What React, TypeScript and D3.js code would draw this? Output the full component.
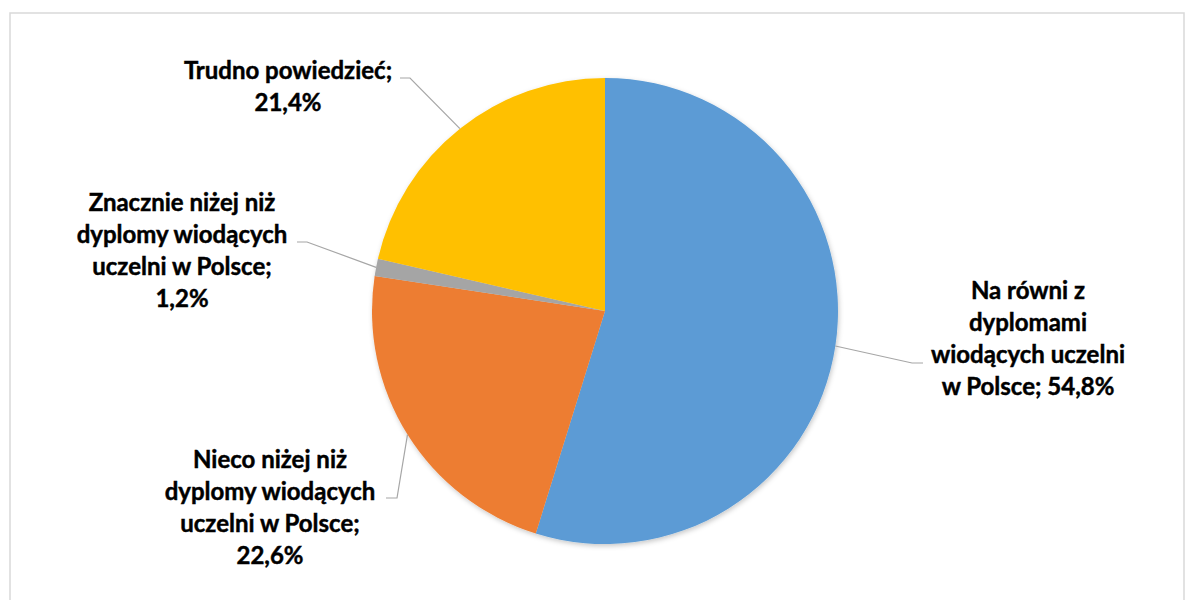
import React from "react";
import * as d3 from "d3";

// categories, in drawing order (clockwise from 12 o'clock)
const categories = [
  "Na równi z dyplomami wiodących uczelni w Polsce",
  "Nieco niżej niż dyplomy wiodących uczelni w Polsce",
  "Znacznie niżej niż dyplomy wiodących uczelni w Polsce",
  "Trudno powiedzieć",
];
const shares = [54.8, 22.6, 1.2, 21.4];

// label text, line by line
const labelLines = [
  ["Na równi z", "dyplomami", "wiodących uczelni", "w Polsce; 54,8%"],
  ["Nieco niżej niż", "dyplomy wiodących", "uczelni w Polsce;", "22,6%"],
  ["Znacznie niżej niż", "dyplomy wiodących", "uczelni w Polsce;", "1,2%"],
  ["Trudno powiedzieć;", "21,4%"],
];

const colors = ["#5B9BD5", "#ED7D31", "#A5A5A5", "#FFC000"];

// label block layout: centre x, first baseline, leader elbow and end
const labelLayout = [
  { cx: 1028, y0: 299, elbow: [912, 363], end: [923, 363] },
  { cx: 270, y0: 468, elbow: [397, 498], end: [386, 498] },
  { cx: 182, y0: 211, elbow: [307, 242], end: [297, 242] },
  { cx: 288, y0: 79, elbow: [410, 78], end: [400, 78] },
];

const W = 1185;
const H = 600;
const CX = 605;
const CY = 311;
const R = 233;
const LINE_H = 32;

export default function App() {
  const data = categories.map((c, i) => ({ key: c, value: shares[i] }));
  const pie = d3.pie<{ key: string; value: number }>().value(d => d.value).sort(null);
  const arcs = pie(data);
  const arc = d3.arc<d3.PieArcDatum<{ key: string; value: number }>>().innerRadius(0).outerRadius(R);

  return (
    <svg width={W} height={H} style={{ position: "absolute", left: 0, top: 0 }}>
      <defs>
        <filter id="shadow" x="-10%" y="-10%" width="120%" height="120%">
          <feDropShadow dx="1" dy="2" stdDeviation="2.5" floodColor="#000" floodOpacity="0.22" />
        </filter>
      </defs>
      <rect x={0} y={0} width={W} height={H} fill="#fff" />
      <rect x={10} y={13} width={1174} height={620} fill="none" stroke="#d9d9d9" strokeWidth={1.5} />
      <g transform={`translate(${CX},${CY})`} filter="url(#shadow)">
        {arcs.map((a, i) => (
          <path key={i} d={arc(a) || ""} fill={colors[i]} />
        ))}
      </g>
      {arcs.map((a, i) => {
        const mid = (a.startAngle + a.endAngle) / 2;
        const sx = CX + R * Math.sin(mid);
        const sy = CY - R * Math.cos(mid);
        const L = labelLayout[i];
        return (
          <polyline
            key={"l" + i}
            points={`${sx},${sy} ${L.elbow[0]},${L.elbow[1]} ${L.end[0]},${L.end[1]}`}
            fill="none"
            stroke="#a6a6a6"
            strokeWidth={1.2}
          />
        );
      })}
      {labelLines.map((lines, i) => (
        <text
          key={"t" + i}
          textAnchor="middle"
          fontFamily="Lato, 'Open Sans', sans-serif"
          fontWeight={700}
          fontSize={24}
          fill="#000"
          stroke="#000"
          strokeWidth={0.45}
        >
          {lines.map((ln, j) => (
            <tspan key={j} x={labelLayout[i].cx} y={labelLayout[i].y0 + j * LINE_H}>
              {ln}
            </tspan>
          ))}
        </text>
      ))}
    </svg>
  );
}
